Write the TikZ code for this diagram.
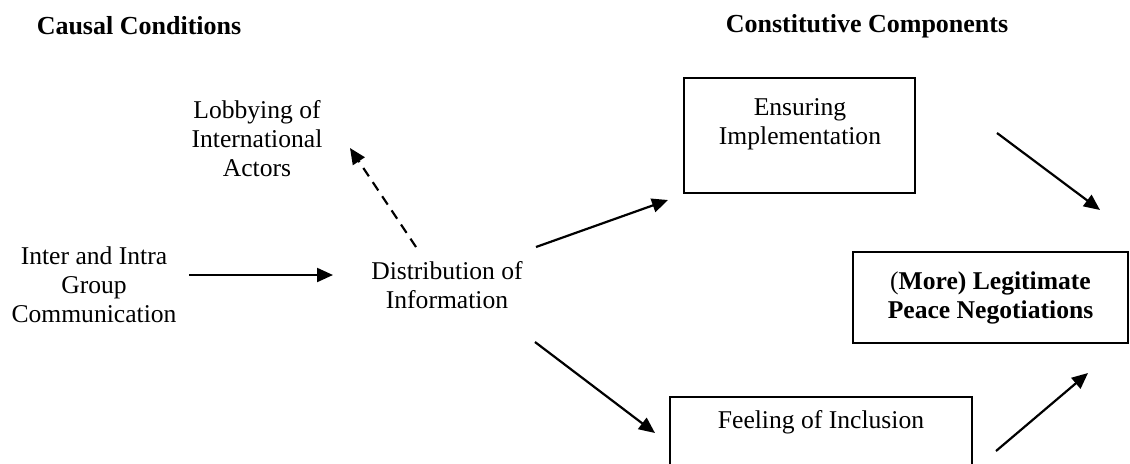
\documentclass[tikz,border=0pt]{standalone}
\usepackage{fontspec}
\setmainfont{Liberation Serif}
\usetikzlibrary{arrows.meta}
\begin{document}
\begin{tikzpicture}[x=0.5pt,y=-0.5pt,
  txt/.style={align=center,inner sep=0pt,font=\fontsize{12.8}{14.5}\selectfont},
  head/.style={inner sep=0pt,font=\fontsize{13}{14.5}\selectfont\bfseries},
  box/.style={draw,line width=0.8pt,inner sep=0pt},
  arr/.style={line width=1.1pt,-{Triangle[length=8pt,width=7pt]}},
  darr/.style={arr,dash pattern=on 5pt off 3.5pt}]
\useasboundingbox (0,0) rectangle (1130,463);
\node[head] (causal) at (139,26) {Causal Conditions};
\node[head] (constit) at (867,26) {Constitutive Components};
\node[txt] (lobby) at (257,139) {Lobbying of\\International\\Actors};
\node[txt] (inter) at (94,285) {Inter and Intra\\Group\\Communication};
\node[txt] (distr) at (447,285) {Distribution of\\Information};
\node[box,minimum width=115.5pt,minimum height=57.5pt] (ensbox) at (799.5,135.5) {};
\node[txt] (ens) at (800,124) {Ensuring\\Implementation};
\node[box,minimum width=137.5pt,minimum height=45.5pt,txt,font=\fontsize{12.8}{14.5}\selectfont\bfseries] (legit) at (990.5,297.5) {\normalfont(\bfseries More) Legitimate\\Peace Negotiations};
\node[box,minimum width=151pt,minimum height=60pt] (feelbox) at (821,457) {};
\node[txt] (feel) at (821,422) {Feeling of Inclusion};
\coordinate (a1s) at (189,275); \coordinate (a1e) at (333,275);
\coordinate (a2s) at (416,247); \coordinate (a2e) at (350,148);
\coordinate (a3s) at (536,247); \coordinate (a3e) at (668,200);
\coordinate (a4s) at (535,342); \coordinate (a4e) at (655,433);
\coordinate (a5s) at (997,133); \coordinate (a5e) at (1100,210);
\coordinate (a6s) at (996,451); \coordinate (a6e) at (1088,373);
\draw[arr] (a1s) -- (a1e);
\draw[darr] (a2s) -- (a2e);
\draw[arr] (a3s) -- (a3e);
\draw[arr] (a4s) -- (a4e);
\draw[arr] (a5s) -- (a5e);
\draw[arr] (a6s) -- (a6e);
\end{tikzpicture}
\end{document}
